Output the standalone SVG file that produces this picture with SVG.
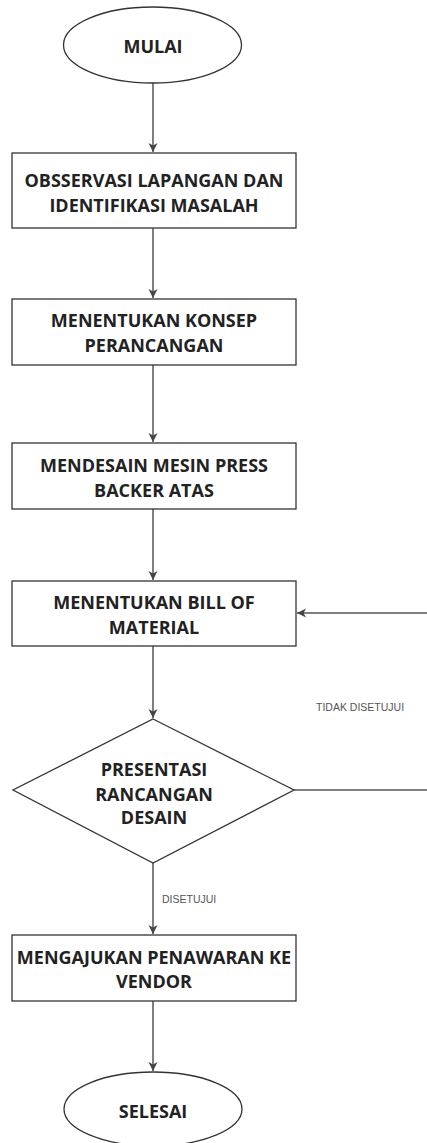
<svg xmlns="http://www.w3.org/2000/svg" width="427" height="1143" viewBox="0 0 427 1143">
<style>
.shape{fill:#fff;stroke:#333;stroke-width:1.3}
.t{font-family:"Open Sans","Noto Sans",sans-serif;font-weight:700;font-size:18px;fill:#222;text-anchor:middle}
.lbl{font-family:"Liberation Sans",Arial,sans-serif;font-size:10.5px;fill:#555}
.c{fill:none;stroke:#555;stroke-width:1.5}
</style>
<defs>
<marker id="ah" markerWidth="10" markerHeight="10" refX="9" refY="5" orient="auto" markerUnits="userSpaceOnUse">
<path d="M0,0.5 L9,5 L0,9.5 L2.5,5 Z" fill="#444"/>
</marker>
</defs>
<rect width="427" height="1143" fill="#fff"/>
<g id="connectors">
<line class="c" x1="153" y1="83" x2="153" y2="152" marker-end="url(#ah)"/>
<line class="c" x1="153" y1="228" x2="153" y2="298" marker-end="url(#ah)"/>
<line class="c" x1="153" y1="365" x2="153" y2="442" marker-end="url(#ah)"/>
<line class="c" x1="153" y1="509" x2="153" y2="580" marker-end="url(#ah)"/>
<line class="c" x1="153" y1="646" x2="153" y2="718" marker-end="url(#ah)"/>
<line class="c" x1="153" y1="863" x2="153" y2="934" marker-end="url(#ah)"/>
<line class="c" x1="153" y1="1001" x2="153" y2="1071" marker-end="url(#ah)"/>
<path class="c" d="M294,790 H432 V613 H297" marker-end="url(#ah)"/>
<text class="lbl" x="316" y="711">TIDAK DISETUJUI</text>
<text class="lbl" x="162" y="903">DISETUJUI</text>
</g>
<g id="mulai">
<ellipse class="shape" cx="152.5" cy="45" rx="89" ry="38"/>
<text class="t" x="153" y="53">MULAI</text>
</g>
<g id="observasi">
<rect class="shape" x="12" y="153" width="284" height="75"/>
<text class="t" x="154" y="187">OBSSERVASI LAPANGAN DAN</text>
<text class="t" x="154" y="212">IDENTIFIKASI MASALAH</text>
</g>
<g id="konsep">
<rect class="shape" x="12" y="299" width="284" height="66"/>
<text class="t" x="154" y="327">MENENTUKAN KONSEP</text>
<text class="t" x="154" y="352">PERANCANGAN</text>
</g>
<g id="mendesain">
<rect class="shape" x="12" y="443" width="284" height="66"/>
<text class="t" x="154" y="472">MENDESAIN MESIN PRESS</text>
<text class="t" x="154" y="497">BACKER ATAS</text>
</g>
<g id="bom">
<rect class="shape" x="12" y="581" width="284" height="65"/>
<text class="t" x="154" y="609">MENENTUKAN BILL OF</text>
<text class="t" x="154" y="634">MATERIAL</text>
</g>
<g id="presentasi">
<polygon class="shape" points="153,719 294,790 153,863 13,790"/>
<text class="t" x="154" y="776">PRESENTASI</text>
<text class="t" x="154" y="801">RANCANGAN</text>
<text class="t" x="154" y="824">DESAIN</text>
</g>
<g id="vendor">
<rect class="shape" x="12" y="935" width="284" height="66"/>
<text class="t" x="154" y="964">MENGAJUKAN PENAWARAN KE</text>
<text class="t" x="154" y="988">VENDOR</text>
</g>
<g id="selesai">
<ellipse class="shape" cx="153" cy="1109" rx="89" ry="37"/>
<text class="t" x="153" y="1118">SELESAI</text>
</g>
</svg>
